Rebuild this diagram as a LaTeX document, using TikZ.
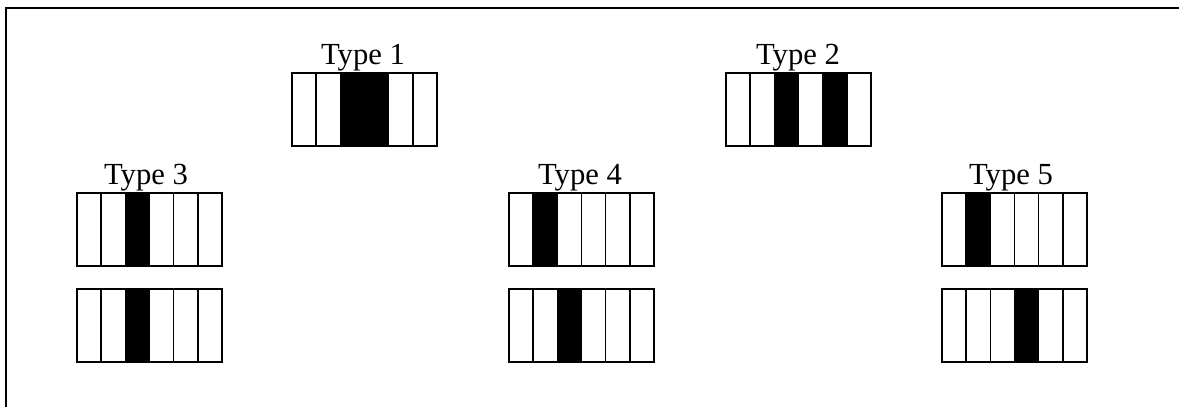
\documentclass[tikz,border=0pt]{standalone}
\usepackage{fontspec}
\setmainfont{Liberation Serif}
\begin{document}
\begin{tikzpicture}[x=0.75pt,y=-0.75pt,
  cell/.style={draw=black,line width=1.2pt,minimum width=18.125pt,minimum height=54.75pt,inner sep=0pt,outer sep=0pt,anchor=north west,fill=white},
  blackcell/.style={cell,fill=black},
  lbl/.style={font=\fontsize{23}{27}\selectfont,inner sep=0pt,anchor=base},
  frame/.style={line width=1.5pt,draw=black}]
\useasboundingbox (0,0) rectangle (1179,407);
\newcommand\cellrow[4]{%
  \begin{scope}[shift={(#2,#3)}]
    \foreach \i in {1,...,6} {\node[cell] (#1-\i) at ({(\i-1)*24.1667},0) {};}
    \foreach \j in {#4} {\node[blackcell] (#1-b\j) at ({(\j-1)*24.1667},0) {};}
  \end{scope}}
\draw[frame] (6,407) -- (6,8) -- (1179,8);
% Type 1
\cellrow{a}{292}{73}{3,4}
\node[lbl] (t1) at (363,64) {Type 1};
% Type 2
\cellrow{b}{726}{73}{3,5}
\node[lbl] (t2) at (798,64) {Type 2};
% Type 3
\cellrow{c}{77}{193}{3}
\cellrow{cc}{77}{289}{3}
\node[lbl] (t3) at (146,184) {Type 3};
% Type 4
\cellrow{d}{509}{193}{2}
\cellrow{dd}{509}{289}{3}
\node[lbl] (t4) at (580,184) {Type 4};
% Type 5
\cellrow{e}{942}{193}{2}
\cellrow{ee}{942}{289}{4}
\node[lbl] (t5) at (1011,184) {Type 5};
\end{tikzpicture}
\end{document}
